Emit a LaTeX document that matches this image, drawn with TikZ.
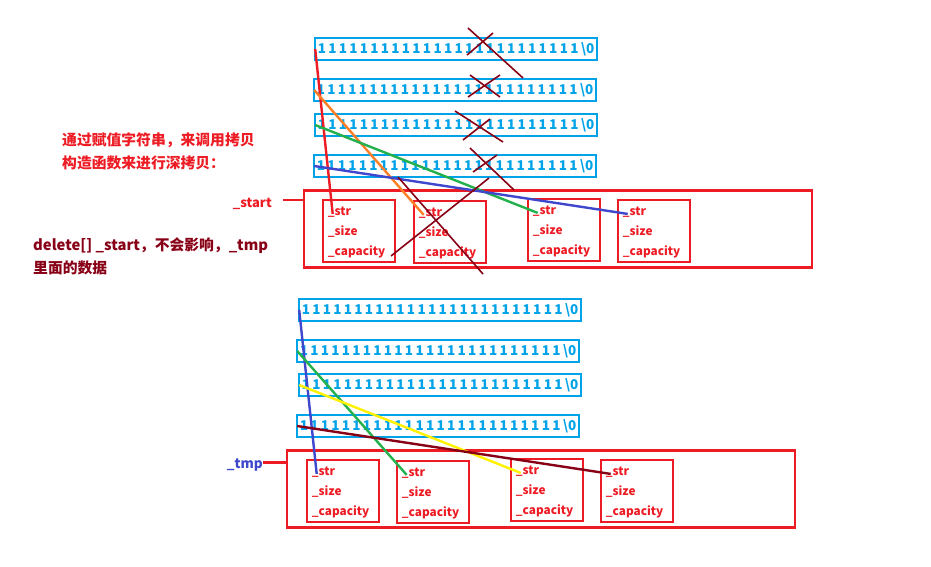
\documentclass[tikz,border=0pt]{standalone}
\usepackage{fontspec}
\setmainfont{Noto Sans CJK SC}
\usetikzlibrary{positioning, calc}
\definecolor{strblue}{RGB}{0, 162, 232}
\definecolor{boxred}{RGB}{237, 28, 36}
\definecolor{crossred}{RGB}{136, 0, 21}
\definecolor{linkgreen}{RGB}{34, 177, 76}
\definecolor{linkorange}{RGB}{255, 127, 39}
\definecolor{linkyellow}{RGB}{255, 242, 0}
\definecolor{linkindigo}{RGB}{63, 72, 204}
\newcommand{\onesrow}{1 1 1 1 1 1 1 1 1 1 1 1 1 1 1 1 1 1 1 1 1 1 1 1 1 \textbackslash0}
\newcommand{\stringfont}{\bfseries\fontsize{13.5}{13.5}\selectfont\spaceskip=2.3pt\relax}
\tikzset{
  strbox/.style={draw=strblue, line width=2.6pt, minimum width=282pt, minimum height=22pt, inner sep=0pt, text=strblue, font=\stringfont},
  framebox/.style={draw=boxred, line width=2.6pt, minimum width=508pt, minimum height=77pt, inner sep=0pt},
  membox/.style={draw=boxred, line width=2.6pt, minimum width=72pt, minimum height=62pt, inner sep=0pt},
  memlabel/.style={anchor=base west, inner sep=0pt, text=boxred, font=\bfseries\fontsize{11.8}{11.8}\selectfont},
  notetext/.style={anchor=base west, inner sep=0pt, font=\bfseries\fontsize{14.8}{14.8}\selectfont},
  link/.style={line width=2.4pt},
  cross/.style={draw=crossred, line width=1.6pt},
}
\begin{document}
\begin{tikzpicture}[x=1pt, y=-1pt]
  \useasboundingbox (0,0) rectangle (931,566);
  % strings behind _start and _tmp
  \foreach \n/\x/\y in {1/456/49, 2/455/90, 3/456/125, 4/455/166}
    \node[strbox] (s\n) at (\x,\y) {\onesrow};
  \foreach \n/\x/\y in {1/440/310, 2/438/351, 3/440/385, 4/438/426}
    \node[strbox] (t\n) at (\x,\y) {\onesrow};
  % the two arrays
  \node[framebox] (startbox) at (558,229) {};
  \node[framebox] (tmpbox) at (541,489) {};
  \foreach \n/\x/\y in {1/359/231, 2/450/232, 3/564/230, 4/654/231}
    \node[membox] (a\n) at (\x,\y) {};
  \foreach \n/\x/\y in {1/343/491, 2/433/492, 3/547/490, 4/637/491}
    \node[membox] (b\n) at (\x,\y) {};
  \foreach \m in {a,b}
    \foreach \n in {1,...,4} {
      \node[memlabel] (\m\n-str) at ($(\m\n.north west)+(6,16.5)$) {\_str};
      \node[memlabel] (\m\n-size) at ($(\m\n.north west)+(6,36.5)$) {\_size};
      \node[memlabel] (\m\n-cap) at ($(\m\n.north west)+(6,56.5)$) {\_capacity};
    }
  % pointers
  \foreach \c/\i/\j in {boxred/s1/a1, linkorange/s2/a2, linkgreen/s3/a3, linkindigo/s4/a4,
                        linkindigo/t1/b1, linkgreen/t2/b2, linkyellow/t3/b3, crossred/t4/b4}
    \draw[link, \c] ([xshift=1.5pt]\i.west) -- ([xshift=5pt, yshift=-2pt]\j-str.west);
  % crossed out
  \draw[cross] (468,28) -- (523,78) (467,55) -- (493,33);
  \draw[cross] (470,75) -- (500,97) (468,97) -- (500,75);
  \draw[cross] (455,111) -- (503,142) (463,140) -- (490,119);
  \draw[cross] (470,148) -- (514,190) (473,172) -- (497,155);
  \draw[cross] (398,177) -- (483,274) (391,256) -- (489,178);
  % names
  \node[notetext, anchor=base east, text=boxred, font=\bfseries\fontsize{13}{13}\selectfont] (startlbl) at (272,207) {\_start};
  \coordinate (startpin) at (283,200);
  \draw[boxred, line width=2.4pt] (startpin) -- (startpin -| startbox.west);
  \node[notetext, anchor=base east, text=linkindigo, font=\bfseries\fontsize{13.5}{13.5}\selectfont] (tmplbl) at (263,468) {\_tmp};
  \draw[boxred, line width=2.4pt] ([yshift=2pt]tmplbl.east) -- ([yshift=2pt]tmplbl.east -| tmpbox.west);
  % notes
  \node[notetext, text=boxred] (note1) at (62,145.5) {通过赋值字符串，来调用拷贝};
  \node[notetext, text=boxred] (note2) at (62,168.5) {构造函数来进行深拷贝：};
  \node[notetext, text=crossred] (note3) at (33,250.5) {delete[] \_start，不会影响，\_tmp};
  \node[notetext, text=crossred] (note4) at (33,273.5) {里面的数据};
\end{tikzpicture}
\end{document}
